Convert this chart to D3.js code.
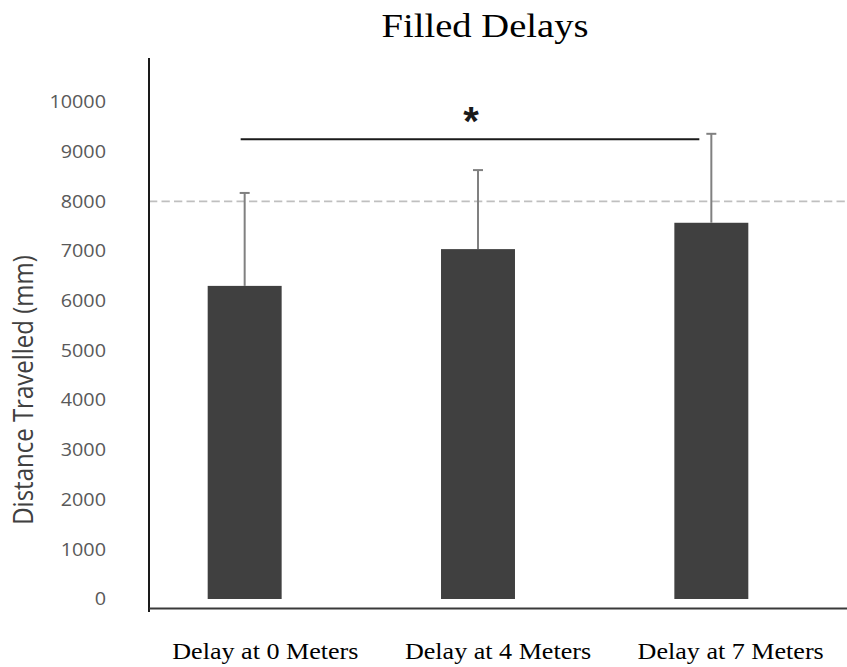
<!DOCTYPE html>
<html><head><meta charset="utf-8">
<script src="https://cdn.jsdelivr.net/npm/d3@7"></script>
<style>body{margin:0;background:#fff}svg{display:block}</style>
</head><body>
<svg id="c" width="847" height="667"></svg>
<script>
// ---- data ----
const categories = ["Delay at 0 Meters", "Delay at 4 Meters", "Delay at 7 Meters"];
const means = [6300, 7040, 7570];
const errors = [1870, 1590, 1790];
const yTicks = [0, 1000, 2000, 3000, 4000, 5000, 6000, 7000, 8000, 9000, 10000];
const referenceValue = 8000;
const sigPair = [0, 2];
const sigValue = 9250;
const sigLabel = "*";
const titleText = "Filled Delays";
const yLabelText = "Distance Travelled (mm)";

// ---- layout ----
const svg = d3.select("#c");
const axisX = 149, plotRight = 847, baseY = 599, topY = 102;
const y = d3.scaleLinear().domain([0, 10000]).range([baseY, topY]);
const xBar = d3.scaleBand().domain(categories).range([128, 828]).paddingInner(0.683).paddingOuter(0.3415);
const xLab = d3.scaleBand().domain(categories).range([axisX, plotRight]);
const bw = xBar.bandwidth();
const cx = c => xBar(c) + bw / 2;
const stretch = 1.17;

// title
svg.append("text").text(titleText)
  .attr("transform", `translate(485,37) scale(${stretch},1)`)
  .attr("text-anchor", "middle")
  .style("font-family", "'Liberation Serif','Times New Roman',serif")
  .style("font-size", "33px").style("fill", "#000");

// dashed reference line
svg.append("line")
  .attr("x1", axisX).attr("x2", plotRight)
  .attr("y1", y(referenceValue)).attr("y2", y(referenceValue))
  .attr("stroke", "#bfbfbf").attr("stroke-width", 1.6).attr("stroke-dasharray", "8.3,4.2");

// bars
svg.append("g").selectAll("rect").data(categories).join("rect")
  .attr("x", d => xBar(d)).attr("width", bw)
  .attr("y", (d, i) => y(means[i])).attr("height", (d, i) => y(0) - y(means[i]))
  .attr("fill", "#404040");

// error bars
const eb = svg.append("g").attr("stroke", "#808080").attr("stroke-width", 2);
categories.forEach((c, i) => {
  eb.append("line").attr("x1", cx(c)).attr("x2", cx(c))
    .attr("y1", y(means[i])).attr("y2", y(means[i] + errors[i]));
  eb.append("line").attr("x1", cx(c) - 5).attr("x2", cx(c) + 5)
    .attr("y1", y(means[i] + errors[i])).attr("y2", y(means[i] + errors[i]));
});

// significance bar
const sx1 = cx(categories[sigPair[0]]) - 4, sx2 = cx(categories[sigPair[1]]) - 12;
svg.append("line").attr("x1", sx1).attr("x2", sx2)
  .attr("y1", y(sigValue)).attr("y2", y(sigValue))
  .attr("stroke", "#1a1a1a").attr("stroke-width", 2);
svg.append("text").text(sigLabel)
  .attr("x", (sx1 + sx2) / 2 + 1).attr("y", y(sigValue) - 4)
  .attr("text-anchor", "middle")
  .style("font-family", "'Liberation Sans',Arial,sans-serif").style("font-weight", "bold")
  .style("font-size", "40px").style("fill", "#1a1a1a");

// y axis
const gy = svg.append("g").attr("transform", `translate(${axisX},0)`)
  .call(d3.axisLeft(y).tickValues(yTicks).tickSize(0).tickFormat(d3.format("d")));
gy.select(".domain").remove();
gy.selectAll("text")
  .attr("x", 0)
  .attr("transform", `translate(-43,0) scale(1.1,1)`)
  .style("font-family", "'Open Sans',sans-serif").style("font-size", "18px").style("fill", "#595959");
svg.append("line").attr("x1", axisX).attr("x2", axisX).attr("y1", 58).attr("y2", 612)
  .attr("stroke", "#1a1a1a").attr("stroke-width", 2);

// x axis
const gx = svg.append("g").attr("transform", `translate(0,${y(0) + 9})`)
  .call(d3.axisBottom(xLab).tickSize(0).tickSizeOuter(0).tickPadding(35));
gx.select(".domain").attr("stroke", "#3a3a3a").attr("stroke-width", 2.2);
gx.selectAll("text")
  .attr("transform", `scale(1.16,1)`)
  .style("font-family", "'Liberation Serif','Times New Roman',serif").style("font-size", "22.5px").style("fill", "#000");

// y label
svg.append("text").text(yLabelText)
  .attr("transform", `translate(33,390) scale(${stretch},1) rotate(-90)`)
  .attr("text-anchor", "middle")
  .style("font-family", "'Open Sans',sans-serif").style("font-size", "24px").style("fill", "#404040");
</script>
</body></html>
